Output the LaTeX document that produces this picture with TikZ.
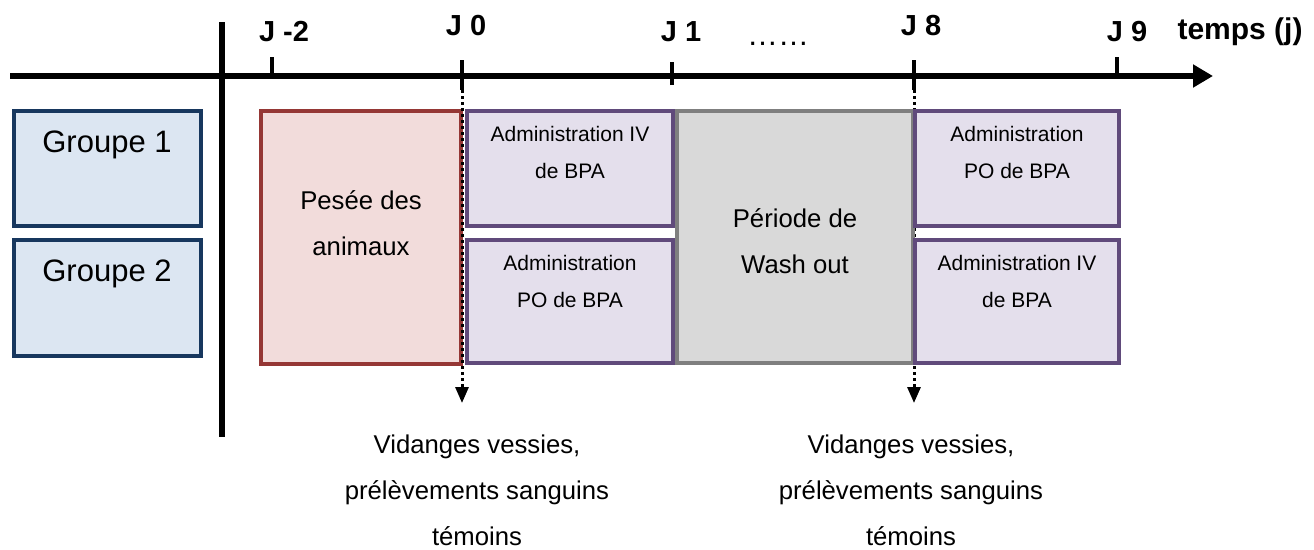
\documentclass[tikz,border=0pt]{standalone}
\usepackage{fontspec}
\setmainfont{Liberation Sans}
\usetikzlibrary{arrows.meta}

% Colours of the boxes
\definecolor{grpfill}{HTML}{DCE6F2}
\definecolor{grpline}{HTML}{17375E}
\definecolor{pesfill}{HTML}{F2DCDB}
\definecolor{pesline}{HTML}{953735}
\definecolor{admfill}{HTML}{E4DFEC}
\definecolor{admline}{HTML}{604A7B}
\definecolor{wshfill}{HTML}{D9D9D9}
\definecolor{wshline}{HTML}{7F7F7F}

\tikzset{
    box/.style={rectangle, line width=3.5pt, inner sep=0pt, outer sep=0pt},
    grpbox/.style={box, draw=grpline, fill=grpfill, minimum width=187pt},
    pesbox/.style={box, draw=pesline, fill=pesfill},
    admbox/.style={box, draw=admline, fill=admfill},
    wshbox/.style={box, draw=wshline, fill=wshfill},
    daylabel/.style={anchor=base, font=\bfseries\fontsize{29}{32}\selectfont},
    ticky/.style={line width=4.5pt},
    mark line/.style={line width=3pt, dash pattern=on 3pt off 3pt,
        -{Triangle[width=13pt,length=16pt]}},
}

\begin{document}
\begin{tikzpicture}[x=1pt, y=-1pt]

    \useasboundingbox (0,0) rectangle (1314,549);

    % Ends of the time axis and of the separator
    \coordinate (O) at (10,76);
    \coordinate (T) at (1213,76);
    \coordinate (S1) at (222,22);
    \coordinate (S2) at (222,437);

    % Ticks on the time axis
    \coordinate (Jm2) at (272,76);
    \coordinate (J0) at (462,76);
    \coordinate (J1) at (672,76);
    \coordinate (J8) at (914,76);
    \coordinate (J9) at (1117,76);

    % Ends of the dotted arrows
    \coordinate (A0) at (462,90);
    \coordinate (B0) at (462,403);
    \coordinate (A8) at (914,90);
    \coordinate (B8) at (914,403);

    % Axis, separator and ticks
    \draw[line width=6pt, -{Triangle[width=22pt,length=20pt]}] (O) -- (T);
    \draw[line width=6pt] (S1) -- (S2);
    \draw[ticky] (Jm2) -- ++(0,-19);
    \draw[ticky] ([yshift=-14pt]J0) -- ++(0,-30);
    \draw[ticky] ([yshift=-9pt]J1) -- ++(0,-23);
    \draw[ticky] ([yshift=-14pt]J8) -- ++(0,-30);
    \draw[ticky] (J9) -- ++(0,-19);

    % Dotted arrow at J 8 lies under the boxes
    \draw[mark line] (A8) -- (B8);

    % Boxes of the two groups
    \node[grpbox, minimum height=115pt] (grp1) at (107.5,168.5) {};
    \node[grpbox, minimum height=116pt] (grp2) at (107.5,298) {};

    % Boxes of the protocol
    \node[pesbox, minimum width=200pt, minimum height=253pt] (pesee) at (361,237.5) {};
    \node[wshbox, minimum width=236pt, minimum height=252pt] (wash) at (795,237) {};
    \node[admbox, minimum width=206pt, minimum height=115pt] (ivA) at (570,168.5) {};
    \node[admbox, minimum width=206pt, minimum height=123pt] (poA) at (570,301.5) {};
    \node[admbox, minimum width=204pt, minimum height=115pt] (poB) at (1017,168.5) {};
    \node[admbox, minimum width=204pt, minimum height=123pt] (ivB) at (1017,301.5) {};

    % Dotted arrow at J 0 lies over the boxes
    \draw[mark line] (A0) -- (B0);

    % Labels of the axis
    \node[daylabel] (lJm2) at (284,41) {J -2};
    \node[daylabel] (lJ0) at (466,35) {J 0};
    \node[daylabel] (lJ1) at (681,41) {J 1};
    \node[anchor=base, font=\fontsize{31}{34}\selectfont] (ldots) at (778,45) {……};
    \node[daylabel] (lJ8) at (921,35) {J 8};
    \node[daylabel] (lJ9) at (1127,41) {J 9};
    \node[daylabel, font=\bfseries\fontsize{30}{34}\selectfont] (ltemps) at (1240,39) {temps (j)};

    % Texts in the boxes
    \node[anchor=base, font=\fontsize{31}{37}\selectfont] (tgrp1) at (107,152) {Groupe 1};
    \node[anchor=base, font=\fontsize{31}{37}\selectfont] (tgrp2) at (107,281) {Groupe 2};
    \node[anchor=base, align=center, font=\fontsize{25.7}{46}\selectfont] (tpesee) at (361,255) {Pesée des\\animaux};
    \node[anchor=base, align=center, font=\fontsize{25.7}{46}\selectfont] (twash) at (795,273) {Période de\\Wash out};
    \node[anchor=base, align=center, font=\fontsize{21}{37}\selectfont] (tivA) at (570,178) {Administration IV\\de BPA};
    \node[anchor=base, align=center, font=\fontsize{21}{37}\selectfont] (tpoA) at (570,307) {Administration\\PO de BPA};
    \node[anchor=base, align=center, font=\fontsize{21}{37}\selectfont] (tpoB) at (1017,178) {Administration\\PO de BPA};
    \node[anchor=base, align=center, font=\fontsize{21}{37}\selectfont] (tivB) at (1017,307) {Administration IV\\de BPA};

    % Texts under the dotted arrows
    \node[anchor=base, align=center, font=\fontsize{25.7}{46}\selectfont] (vid0) at (477,545) {Vidanges vessies,\\prélèvements sanguins\\témoins};
    \node[anchor=base, align=center, font=\fontsize{25.7}{46}\selectfont] (vid8) at (911,545) {Vidanges vessies,\\prélèvements sanguins\\témoins};

\end{tikzpicture}
\end{document}
